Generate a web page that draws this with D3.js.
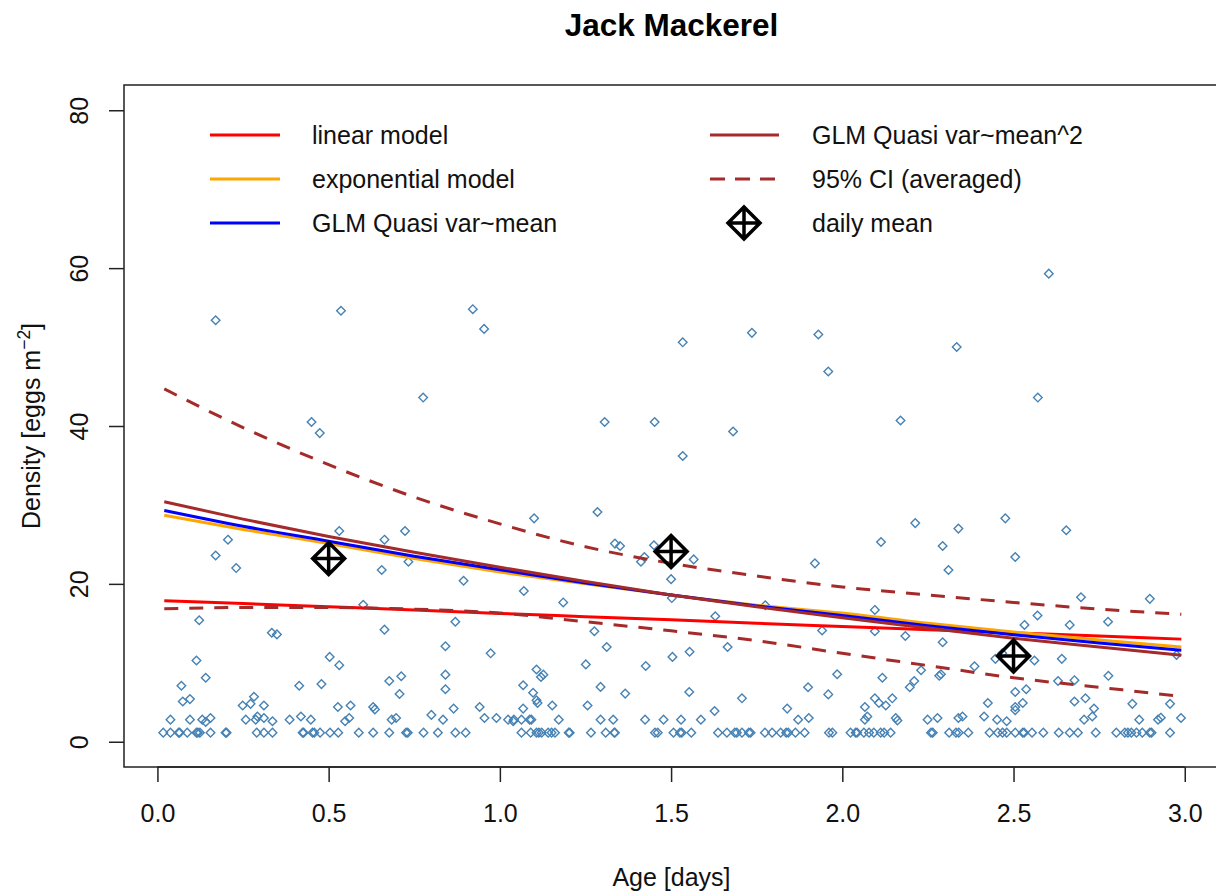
<!DOCTYPE html>
<html>
<head>
<meta charset="utf-8">
<script src="https://cdn.jsdelivr.net/npm/d3@7"></script>
<style>
  html, body { margin: 0; padding: 0; background: #fff; }
  svg { display: block; font-family: "Liberation Sans", Arial, Helvetica, sans-serif; }
</style>
</head>
<body>
<svg id="chart" width="1216" height="895"></svg>
<script>
// ---------------- data ----------------
const chartTitle = "Jack Mackerel";
const xTicks = [0, 0.5, 1.0, 1.5, 2.0, 2.5, 3.0];
const yTicks = [0, 20, 40, 60, 80];

// x positions at which the fitted curves were read
const curveAge = [0.02, 0.25, 0.5, 0.75, 1.0, 1.25, 1.5, 1.75, 2.0, 2.25, 2.5, 2.75, 2.99];
const linearModel = [17.85, 17.5, 17.1, 16.7, 16.25, 15.85, 15.45, 15.0, 14.6, 14.2, 13.8, 13.4, 13.0];
const exponentialModel = [28.7, 26.9, 25.1, 23.2, 21.5, 20.0, 18.6, 17.3, 16.3, 15.0, 13.9, 12.9, 12.0];
const glmQuasiMean = [29.3, 27.3, 25.4, 23.5, 21.8, 20.1, 18.6, 17.2, 16.0, 14.7, 13.55, 12.5, 11.6];
const glmQuasiMean2 = [30.4, 28.2, 26.0, 24.0, 22.1, 20.3, 18.6, 17.1, 15.7, 14.4, 13.1, 12.0, 10.95];
const ciUpper = [44.7, 39.8, 35.1, 31.0, 27.6, 24.7, 22.6, 21.0, 19.6, 18.6, 17.65, 16.8, 16.15];
const ciLower = [16.85, 17.0, 17.0, 16.8, 16.3, 15.2, 14.05, 12.8, 11.2, 9.65, 8.1, 6.9, 5.75];

const dailyMeanAge = [0.5, 1.5, 2.5];
const dailyMeanDensity = [23.2, 24.1, 10.85];

// observed samples [age (days), density (eggs m^-2)]
const obsUpper = [[0.17,53.4],[0.536,54.6],[0.45,40.5],[0.474,39.1],[0.776,43.6],[0.921,54.8],[0.954,52.3],
  [1.306,40.5],[1.452,40.5],[1.534,50.6],[1.736,51.8],[1.93,51.6],[1.959,46.9],[2.334,50.0],[2.603,59.3],
  [2.571,43.6],[2.17,40.7],[1.681,39.3],[1.534,36.2]];
const obsDay0 = [[0.531,26.7],[0.206,25.6],[0.17,23.6],[0.23,22.0],[0.663,25.6],[0.723,26.7],[0.655,21.75],
  [0.733,22.8],[0.894,20.4],[0.122,15.4],[0.601,17.35],[0.334,13.8],[0.349,13.6],[0.663,14.2],
  [0.87,15.2],[0.841,12.1],[0.973,11.2],[0.114,10.3],[0.503,10.75],[0.531,9.7],[0.141,8.1],[0.07,7.1],
  [0.841,8.5],[0.414,7.1],[0.479,7.3],[0.677,7.7],[0.712,8.3],[0.707,6.05],[0.841,6.65],[0.074,5.1],
  [0.095,5.4],[0.282,5.7],[0.249,4.6],[0.272,4.8],[0.311,4.6],[0.527,4.4],[0.564,4.6],[0.63,4.4],
  [0.635,4.1],[0.80,3.4],[0.865,4.2],[0.941,4.4]];
const obsDay1 = [[1.07,19.1],[1.10,28.3],[1.285,29.1],[1.336,25.1],[1.351,24.8],[1.45,24.9],[1.412,22.8],[1.422,23.4],
  [1.566,23.1],[1.50,20.6],[1.502,18.2],[1.185,17.65],[1.629,15.9],[1.276,14.0],[1.312,12.0],[1.665,12.0],
  [1.504,10.75],[1.554,11.4],[1.251,9.8],[1.426,9.6],[1.107,9.15],[1.12,8.2],[1.127,8.5],[1.068,7.15],
  [1.294,6.95],[1.366,6.1],[1.553,6.3],[1.097,6.2],[1.107,5.25],[1.11,4.9],[1.153,4.6],[1.068,4.2],
  [1.256,4.6],[1.707,5.5],[1.941,14.1],[1.92,22.6],[1.985,8.55],[1.90,6.9],[1.627,3.9],[1.959,6.0],
  [1.839,4.2],[1.775,17.3]];
const obsDay2 = [[2.095,16.7],[2.095,14.0],[2.113,25.3],[2.117,8.1],[2.095,5.5],[2.066,4.4],[2.107,4.9],
  [2.127,4.6],[2.146,5.5],[2.213,27.7],[2.339,27.0],[2.293,24.8],[2.476,28.3],[2.654,26.8],[2.505,23.4],
  [2.31,21.75],[2.697,18.3],[2.898,18.1],[2.57,16.0],[2.532,14.8],[2.664,14.8],[2.776,15.2],[2.184,13.4],
  [2.293,12.6],[2.447,10.5],[2.467,11.2],[2.561,10.3],[2.641,10.5],[2.976,11.0],[2.23,9.05],[2.21,7.7],
  [2.197,6.9],[2.288,8.55],[2.283,8.35],[2.386,9.55],[2.63,7.7],[2.678,7.8],[2.777,8.35],[2.505,6.3],
  [2.537,6.65],[2.505,4.4],[2.527,4.9],[2.505,4.0],[2.425,4.9],[2.414,3.2],[2.678,5.1],[2.71,5.5],
  [2.735,4.2],[2.73,3.2],[2.847,4.8],[2.957,4.8],[2.073,3.2]];
const obsLow = [[0.038,2.8],[0.095,2.8],[0.131,2.8],[0.141,2.5],[0.155,3.0],[0.258,2.8],[0.287,2.8],[0.292,3.2],
  [0.311,3.0],[0.336,2.6],[0.386,2.8],[0.419,3.2],[0.448,2.8],[0.548,2.6],[0.56,3.0],[0.684,2.8],[0.697,3.0],
  [0.834,2.8],[0.955,3.0],[0.99,3.0],[1.024,2.8],[1.039,2.6],[1.041,2.8],[1.063,2.8],[1.087,2.8],[1.092,2.8],
  [1.172,2.8],[1.294,2.8],[1.331,2.8],[1.424,2.8],[1.478,2.8],[1.529,2.8],[1.587,2.8],[1.871,2.8],[1.902,3.0],
  [2.066,2.8],[2.156,3.0],[2.161,2.7],[2.249,2.8],[2.278,3.0],[2.339,3.0],[2.351,3.2],[2.452,2.8],[2.48,2.6],
  [2.706,2.8],[2.867,2.8],[2.922,2.8],[2.93,3.05],[2.989,3.0]];
const obsSingleEggAge = [0.017,0.038,0.062,0.065,0.087,0.114,0.118,0.124,0.155,0.199,0.202,0.29,0.311,0.336,
  0.424,0.427,0.453,0.458,0.475,0.504,0.528,0.588,0.63,0.677,0.726,0.731,0.777,0.819,0.87,0.9,
  1.063,1.09,1.107,1.114,1.122,1.141,1.151,1.161,1.201,1.204,1.266,1.309,1.334,1.336,1.453,1.461,1.507,
  1.526,1.531,1.559,1.637,1.663,1.686,1.692,1.707,1.727,1.732,1.774,1.795,1.82,1.836,1.842,1.863,1.89,
  1.961,1.971,2.024,2.039,2.043,2.063,2.078,2.092,2.112,2.122,2.141,2.259,2.264,2.312,2.332,2.34,2.368,
  2.43,2.454,2.468,2.48,2.505,2.527,2.531,2.554,2.587,2.632,2.664,2.688,2.74,2.8,2.825,2.834,2.844,
  2.859,2.876,2.898,2.903,2.957];
const singleEggDensity = 1.15;

const legendLeft = ["linear model", "exponential model", "GLM Quasi var~mean"];
const legendRight = ["GLM Quasi var~mean^2", "95% CI (averaged)", "daily mean"];

// ---------------- drawing ----------------
const svg = d3.select("#chart");
const plot = { left: 124, top: 85, right: 1219, bottom: 767 };

const x = d3.scaleLinear().domain([-0.0976, 3.1]).range([plot.left, plot.right]);
const y = d3.scaleLinear().domain([-3.2, 83.2]).range([plot.bottom, plot.top]);

const fontSize = 25;
const observations = [].concat(obsUpper, obsDay0, obsDay1, obsDay2, obsLow,
  obsSingleEggAge.map(a => [a, singleEggDensity]));

// title
svg.append("text").attr("x", (plot.left + plot.right) / 2).attr("y", 36)
  .attr("text-anchor", "middle").attr("font-size", 31.5).attr("font-weight", "bold")
  .attr("fill", "#000").text(chartTitle);

// axes (R style, detached)
const xAxis = d3.axisBottom(x).tickValues(xTicks).tickFormat(d3.format(".1f")).tickSize(15).tickPadding(0);
const gx = svg.append("g").attr("transform", `translate(0,${plot.bottom})`).call(xAxis);
gx.select(".domain").remove();
gx.append("line").attr("x1", x(xTicks[0])).attr("x2", x(xTicks[xTicks.length - 1]))
  .attr("stroke", "#222").attr("stroke-width", 1.5);
gx.selectAll(".tick line").attr("stroke", "#222").attr("stroke-width", 1.5);
gx.selectAll(".tick text").attr("font-size", fontSize).attr("fill", "#111")
  .attr("font-family", "Liberation Sans, Arial, sans-serif").attr("dy", null).attr("y", 55);

const yAxis = d3.axisLeft(y).tickValues(yTicks).tickFormat(d3.format("d")).tickSize(15);
const gy = svg.append("g").attr("transform", `translate(${plot.left},0)`).call(yAxis);
gy.select(".domain").remove();
gy.selectAll(".tick line").attr("stroke", "#222").attr("stroke-width", 1.5);
gy.selectAll(".tick text").attr("font-size", fontSize).attr("fill", "#111")
  .attr("font-family", "Liberation Sans, Arial, sans-serif")
  .attr("x", null).attr("dy", null).attr("text-anchor", "middle")
  .attr("transform", "translate(-36,0) rotate(-90)");

// axis titles
svg.append("text").attr("x", (plot.left + plot.right) / 2).attr("y", 886)
  .attr("text-anchor", "middle").attr("font-size", fontSize).attr("fill", "#111").text("Age [days]");
const yl = svg.append("text").attr("text-anchor", "middle").attr("font-size", fontSize).attr("fill", "#111")
  .attr("transform", `translate(40,${(plot.top + plot.bottom) / 2}) rotate(-90)`);
yl.append("tspan").text("Density [eggs m");
yl.append("tspan").attr("font-size", 17.5).attr("dy", -10).text("\u22122");
yl.append("tspan").attr("dy", 10).text("]");

// clip for plot area
svg.append("clipPath").attr("id", "clip").append("rect")
  .attr("x", plot.left).attr("y", plot.top).attr("width", plot.right - plot.left).attr("height", plot.bottom - plot.top);
const g = svg.append("g").attr("clip-path", "url(#clip)");

// observations: R pch 5 (open diamond)
const diamond = (cx, cy, r) => `M${cx},${cy - r}L${cx + r},${cy}L${cx},${cy + r}L${cx - r},${cy}Z`;
g.append("g").selectAll("path").data(observations).join("path")
  .attr("d", d => diamond(x(d[0]), y(d[1]), 4.3))
  .attr("fill", "none").attr("stroke", "#4682B4").attr("stroke-width", 1.4);

// model curves
const line = d3.line().x((d, i) => x(curveAge[i])).y(d => y(d)).curve(d3.curveMonotoneX);
const series = [
  { v: linearModel, c: "#FF0000", dash: null },
  { v: exponentialModel, c: "#FFA500", dash: null },
  { v: glmQuasiMean, c: "#0000FF", dash: null },
  { v: glmQuasiMean2, c: "#A52A2A", dash: null },
  { v: ciUpper, c: "#A52A2A", dash: "14,11" },
  { v: ciLower, c: "#A52A2A", dash: "14,11" }
];
series.forEach(s => {
  g.append("path").attr("d", line(s.v)).attr("fill", "none").attr("stroke", s.c)
    .attr("stroke-width", 3).attr("stroke-dasharray", s.dash);
});

// daily means: R pch 9 (diamond with plus)
function meanMarker(sel, cx, cy) {
  const r = 16;
  sel.append("path").attr("d", diamond(cx, cy, r) + `M${cx - r},${cy}L${cx + r},${cy}M${cx},${cy - r}L${cx},${cy + r}`)
    .attr("fill", "none").attr("stroke", "#000").attr("stroke-width", 3.5).attr("stroke-linejoin", "miter");
}
dailyMeanAge.forEach((a, i) => meanMarker(g, x(a), y(dailyMeanDensity[i])));

// plot box
svg.append("rect").attr("x", plot.left).attr("y", plot.top)
  .attr("width", plot.right - plot.left).attr("height", plot.bottom - plot.top)
  .attr("fill", "none").attr("stroke", "#222").attr("stroke-width", 1.5);

// legend
const legRows = [135, 179, 223];
const leg = svg.append("g");
const leftColors = ["#FF0000", "#FFA500", "#0000FF"];
legendLeft.forEach((t, i) => {
  leg.append("line").attr("x1", 210).attr("x2", 280).attr("y1", legRows[i]).attr("y2", legRows[i])
    .attr("stroke", leftColors[i]).attr("stroke-width", 3);
  leg.append("text").attr("x", 312).attr("y", legRows[i] + 9).attr("font-size", fontSize).attr("fill", "#111").text(t);
});
legendRight.forEach((t, i) => {
  if (i < 2) {
    leg.append("line").attr("x1", 710).attr("x2", 779).attr("y1", legRows[i]).attr("y2", legRows[i])
      .attr("stroke", "#A52A2A").attr("stroke-width", 3).attr("stroke-dasharray", i === 1 ? "15,10" : null);
  } else {
    meanMarker(leg, 744, legRows[i]);
  }
  leg.append("text").attr("x", 812).attr("y", legRows[i] + 9).attr("font-size", fontSize).attr("fill", "#111").text(t);
});
</script>
</body>
</html>
